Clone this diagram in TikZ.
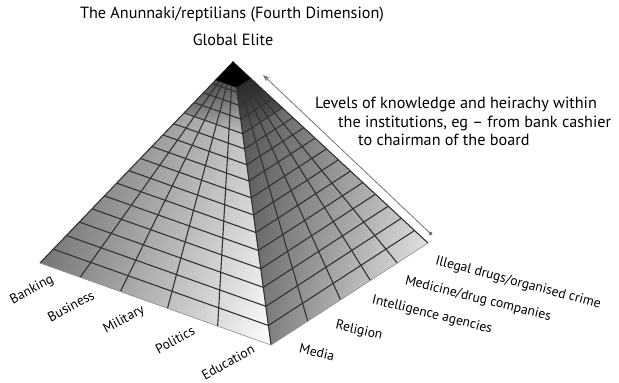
\documentclass[tikz,border=0pt]{standalone}
\usepackage{fontspec}
\setmainfont{PT Sans}
\usetikzlibrary{arrows.meta, fadings, calc}

\tikzfading[name=apexfade, top color=transparent!0, bottom color=transparent!100]

\tikzset{
  gridline/.style={black!80, line width=1.1pt},
  baseline/.style={black!40, line width=0.6pt},
  toptext/.style={font=\fontsize{16.2}{18}\selectfont, inner sep=0pt},
  facelabel/.style={font=\fontsize{13.6}{16}\selectfont, inner sep=0pt},
  levelarrow/.style={black!55, line width=0.8pt, {Stealth[length=7pt,width=5pt]}-{Circle[length=4pt]}},
}

\begin{document}
\begin{tikzpicture}[x=1pt, y=-1pt]
	\useasboundingbox (0,0) rectangle (619,383);
	% corners of the pyramid
	\coordinate (apex) at (233,62);
	\coordinate (left) at (40,263);
	\coordinate (front) at (271,345);
	\coordinate (right) at (428,243);

	% the two faces, darker towards the top
	\fill[left color=black!50, right color=white] (apex) -- (left) -- (front) -- cycle;
	\fill[left color=black!60, right color=black!3] (apex) -- (front) -- (right) -- cycle;
	\fill[black, path fading=apexfade, fill opacity=0.25] (apex) -- (left) -- (front) -- (right) -- cycle;
	\fill[black, path fading=apexfade, fill opacity=0.75] (apex) -- ($(apex)!0.25!(left)$) -- ($(apex)!0.25!(front)$) -- ($(apex)!0.25!(right)$) -- cycle;

	% levels
	\foreach \k in {1,...,17} {
		\pgfmathsetmacro\t{(\k/18)^1.25}
		\draw[gridline] ($(apex)!\t!(left)$) -- ($(apex)!\t!(front)$) -- ($(apex)!\t!(right)$);
	}
	% institutions
	\foreach \s in {0.174,0.348,0.552,0.769}
		\draw[gridline] (apex) -- ($(left)!\s!(front)$);
	\foreach \s in {0.234,0.443,0.633,0.804}
		\draw[gridline] (apex) -- ($(front)!\s!(right)$);
	\draw[gridline] (left) -- (apex) -- (right);
	\draw[gridline] (apex) -- (front);
	\draw[baseline] (left) -- (front) -- (right);
	\fill (apex) -- ($(apex)!0.09!(left)$) -- ($(apex)!0.09!(front)$) -- ($(apex)!0.09!(right)$) -- cycle;

	% texts at the top
	\node[toptext] (anunnaki) at (232,15) {The Anunnaki/reptilians (Fourth Dimension)};
	\node[toptext] (elite) at (233,40) {Global Elite};
	\node[toptext, anchor=base west] (levels) at (315,108) {Levels of knowledge and heirachy within};
	\node[toptext, anchor=base west] (institutions) at (338,127) {the institutions, eg -- from bank cashier};
	\node[toptext, anchor=base west] (chairman) at (358,145) {to chairman of the board};

	\coordinate (knowtop) at (263,75);
	\coordinate (knowbot) at (432,235);
	\draw[levelarrow] (knowtop) -- (knowbot);

	% left face
	\node[facelabel, rotate=28] (banking) at (32,290) {Banking};
	\node[facelabel, rotate=28] (business) at (71,306) {Business};
	\node[facelabel, rotate=28] (military) at (124,320) {Military};
	\node[facelabel, rotate=28] (politics) at (175,340) {Politics};
	\node[facelabel, rotate=29] (education) at (228,362) {Education};

	% right face
	\node[facelabel, rotate=-13] (media) at (317,352) {Media};
	\node[facelabel, rotate=-13] (religion) at (359,331) {Religion};
	\node[facelabel, rotate=-14] (intelligence) at (432,315) {Intelligence agencies};
	\node[facelabel, rotate=-14] (medicine) at (478,299) {Medicine/drug companies};
	\node[facelabel, rotate=-15] (illegal) at (518,283) {Illegal drugs/organised crime};
\end{tikzpicture}
\end{document}
